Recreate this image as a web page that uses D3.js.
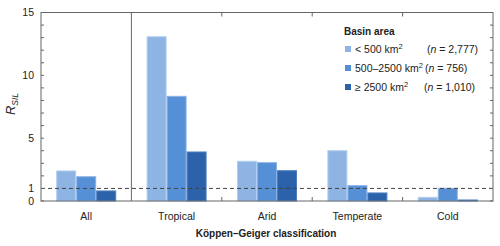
<!DOCTYPE html>
<html>
<head>
<meta charset="utf-8">
<script src="https://cdn.jsdelivr.net/npm/d3@7"></script>
<style>
  body { margin: 0; background: #fff; }
  text { font-family: "Liberation Sans", Arial, sans-serif; fill: #222; }
</style>
</head>
<body>
<div id="chart"></div>
<script>
// categories along x
var categories = ["All", "Tropical", "Arid", "Temperate", "Cold"];
// series (basin area classes)
var seriesNames = ["small", "medium", "large"];
var smallVals  = [2.39, 13.07, 3.16, 4.00, 0.29];
var mediumVals = [1.93, 8.33, 3.05, 1.22, 1.01];
var largeVals  = [0.80, 3.90, 2.41, 0.64, 0.08];
var yTickLabels = [0, 1, 5, 10, 15];
var legendLabels = ["< 500 km", "500\u20132500 km", "\u2265 2500 km"];
var legendCounts = ["2,777)", "756)", "1,010)"];

var colors = ["#8db4e3", "#558fd6", "#2b62a9"];
var strokes = ["#b3cdee", "#8ab2e6", "#4c7fc0"];

var W = 500, H = 246;
var margin = {left: 41, right: 7, top: 12.5, bottom: 45};
var iw = W - margin.left - margin.right;
var ih = H - margin.top - margin.bottom;

var svg = d3.select("#chart").append("svg")
  .attr("width", W).attr("height", H);

var g = svg.append("g").attr("transform", "translate(" + margin.left + "," + margin.top + ")");

var x = d3.scaleBand().domain(categories).range([0, iw]);
var y = d3.scaleLinear().domain([0, 15]).range([ih, 0]);
var barW = 20;
var xs = d3.scaleBand().domain(seriesNames).range([0, barW * 3]);

// build rows from the arrays
var data = categories.map(function(c, i) {
  return {cat: c, vals: [smallVals[i], mediumVals[i], largeVals[i]]};
});

// bars
var grp = g.selectAll(".grp").data(data).enter().append("g")
  .attr("class", "grp")
  .attr("transform", function(d) { return "translate(" + (x(d.cat) + (x.bandwidth() - barW * 3) / 2) + ",0)"; });

grp.selectAll("rect").data(function(d) { return d.vals; }).enter().append("rect")
  .attr("x", function(d, i) { return xs(seriesNames[i]) + 0.5; })
  .attr("y", function(d) { return y(d); })
  .attr("width", barW - 1)
  .attr("height", function(d) { return ih - y(d); })
  .style("fill", function(d, i) { return colors[i]; })
  .style("stroke", function(d, i) { return strokes[i]; })
  .style("stroke-width", 1);

// dashed reference line at 1
g.append("line")
  .attr("x1", 0).attr("x2", iw)
  .attr("y1", y(1)).attr("y2", y(1))
  .style("stroke", "#444").style("stroke-width", 1)
  .style("stroke-dasharray", "4,3");

// frame
g.append("rect").attr("x", 0).attr("y", 0).attr("width", iw).attr("height", ih)
  .style("fill", "none").style("stroke", "#666").style("stroke-width", 1);

// separator after "All"
g.append("line")
  .attr("x1", x("Tropical")).attr("x2", x("Tropical"))
  .attr("y1", 0).attr("y2", ih)
  .style("stroke", "#666").style("stroke-width", 1);

// minor ticks every unit, left and right, inward
var unitTicks = d3.range(0, 16);
g.selectAll(".tl").data(unitTicks).enter().append("line")
  .attr("x1", 0).attr("x2", 3)
  .attr("y1", function(d) { return y(d); }).attr("y2", function(d) { return y(d); })
  .style("stroke", "#666");
g.selectAll(".tr").data(unitTicks).enter().append("line")
  .attr("x1", iw - 3).attr("x2", iw)
  .attr("y1", function(d) { return y(d); }).attr("y2", function(d) { return y(d); })
  .style("stroke", "#666");

// category boundary ticks top and bottom
var bounds = categories.slice(2);
g.selectAll(".bt").data(bounds).enter().append("line")
  .attr("x1", function(d) { return x(d); }).attr("x2", function(d) { return x(d); })
  .attr("y1", ih).attr("y2", ih - 4)
  .style("stroke", "#666");
g.selectAll(".tt").data(bounds).enter().append("line")
  .attr("x1", function(d) { return x(d); }).attr("x2", function(d) { return x(d); })
  .attr("y1", 0).attr("y2", 4)
  .style("stroke", "#666");

// y tick labels
g.selectAll(".yl").data(yTickLabels).enter().append("text")
  .attr("x", -7).attr("y", function(d) { return y(d); })
  .attr("dy", "0.35em")
  .attr("text-anchor", "end")
  .style("font-size", "10.5px")
  .text(function(d) { return d; });

// x category labels
g.selectAll(".xl").data(categories).enter().append("text")
  .attr("x", function(d) { return x(d) + x.bandwidth() / 2; })
  .attr("y", ih + 19)
  .attr("text-anchor", "middle")
  .style("font-size", "10.5px")
  .text(function(d) { return d; });

// x title
svg.append("text")
  .attr("x", 266).attr("y", 237)
  .attr("text-anchor", "middle")
  .style("font-size", "10px").style("font-weight", "bold")
  .text("K\u00f6ppen\u2013Geiger classification");

// y title
var yt = svg.append("text")
  .attr("transform", "translate(15,104) rotate(-90)")
  .attr("text-anchor", "middle")
  .style("font-size", "13px").style("font-style", "italic");
yt.append("tspan").text("R");
yt.append("tspan").attr("dy", 3).style("font-size", "8.5px").text("SIL");

// legend
var lg = svg.append("g").attr("transform", "translate(344,0)");
lg.append("text").attr("x", 0).attr("y", 35)
  .style("font-size", "10px").style("font-weight", "bold")
  .text("Basin area");
var rows = lg.selectAll(".lr").data(legendLabels).enter().append("g")
  .attr("transform", function(d, i) { return "translate(0," + (49 + i * 19) + ")"; });
rows.append("rect").attr("x", 1).attr("y", -3).attr("width", 6).attr("height", 6)
  .style("fill", function(d, i) { return colors[i]; });
var lt = rows.append("text").attr("x", 11).attr("y", 4).style("font-size", "10.5px");
lt.append("tspan").text(function(d) { return d; });
lt.append("tspan").attr("dy", -4).style("font-size", "7.5px").text("2");
var ct = rows.append("text")
  .attr("x", function(d, i) { return [83, 81, 80][i]; })
  .attr("y", 4).style("font-size", "10.5px");
ct.append("tspan").text("(");
ct.append("tspan").style("font-style", "italic").text("n");
ct.append("tspan").text(function(d, i) { return " = " + legendCounts[i]; });
</script>
</body>
</html>
